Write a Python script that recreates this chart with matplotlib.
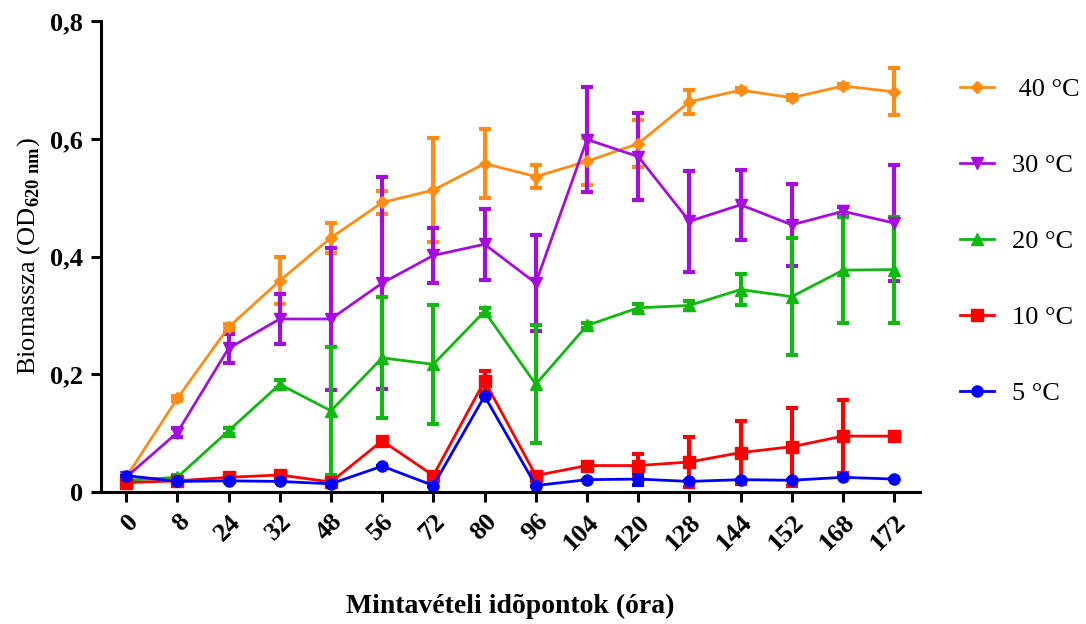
import numpy as np
import matplotlib.pyplot as plt

# Sampling times (hours) and mean biomass (OD620) per temperature, with SD
hours = ['0', '8', '24', '32', '48', '56', '72', '80', '96', '104',
         '120', '128', '144', '152', '168', '172']

od_40 = [0.025, 0.159, 0.280, 0.359, 0.432, 0.492, 0.513, 0.558, 0.536, 0.562,
         0.592, 0.663, 0.683, 0.670, 0.690, 0.680]
sd_40 = [0.0, 0.004, 0.006, 0.040, 0.025, 0.020, 0.088, 0.059, 0.019, 0.040,
         0.040, 0.020, 0.004, 0.004, 0.004, 0.040]

od_30 = [0.025, 0.101, 0.244, 0.294, 0.294, 0.355, 0.402, 0.421, 0.355, 0.599,
         0.570, 0.460, 0.488, 0.454, 0.477, 0.457]
sd_30 = [0.0, 0.008, 0.025, 0.042, 0.120, 0.180, 0.047, 0.060, 0.081, 0.090,
         0.074, 0.086, 0.060, 0.070, 0.008, 0.099]

od_20 = [0.020, 0.025, 0.104, 0.183, 0.138, 0.228, 0.217, 0.307, 0.183, 0.283,
         0.313, 0.317, 0.344, 0.332, 0.377, 0.378]
sd_20 = [0.0, 0.004, 0.005, 0.007, 0.109, 0.103, 0.101, 0.005, 0.100, 0.004,
         0.007, 0.008, 0.027, 0.100, 0.090, 0.090]

od_10 = [0.016, 0.019, 0.025, 0.029, 0.017, 0.087, 0.028, 0.189, 0.028, 0.045,
         0.045, 0.051, 0.067, 0.077, 0.095, 0.095]
sd_10 = [0.0, 0.0, 0.004, 0.004, 0.004, 0.004, 0.004, 0.017, 0.004, 0.004,
         0.020, 0.043, 0.053, 0.066, 0.062, 0.0]

od_5 = [0.028, 0.018, 0.019, 0.018, 0.014, 0.044, 0.011, 0.163, 0.011, 0.021,
        0.022, 0.018, 0.021, 0.020, 0.025, 0.022]
sd_5 = [0.0, 0.0, 0.0, 0.0, 0.0, 0.0, 0.0, 0.0, 0.0, 0.0,
        0.010, 0.0, 0.0, 0.0, 0.0, 0.0]

series = [
    (' 40 °C', od_40, sd_40, '#ff8c14', 'D', 6),
    ('30 °C', od_30, sd_30, '#a50ddf', 'v', 9),
    ('20 °C', od_20, sd_20, '#10b810', '^', 9),
    ('10 °C', od_10, sd_10, '#ff0000', 's', 8),
    ('5 °C', od_5, sd_5, '#0000ff', 'o', 8),
]

plt.rcParams['font.family'] = ['Liberation Serif', 'DejaVu Serif']
plt.rcParams['mathtext.fontset'] = 'custom'
plt.rcParams['mathtext.rm'] = 'Liberation Serif'
plt.rcParams['mathtext.bf'] = 'Liberation Serif:bold'

fig = plt.figure(figsize=(10.86, 6.24), dpi=100)
ax = fig.add_axes([0.093, 0.2115, 0.754, 0.7545])

x = np.arange(len(hours))
for label, y, err, color, marker, ms in series:
    ax.errorbar(x, y, yerr=err, color=color, marker=marker, markersize=ms,
                linewidth=2, elinewidth=3, capsize=4, capthick=3,
                label=label)

ax.set_xlim(-0.49, 15.5)
ax.set_ylim(0, 0.8)
ax.set_xticks(x)
ax.set_xticklabels(hours, rotation=45, ha='right', rotation_mode='anchor',
                   fontweight='bold', fontsize=19)
ax.set_yticks([0, 0.2, 0.4, 0.6, 0.8])
ax.set_yticklabels(['0', '0,2', '0,4', '0,6', '0,8'], fontweight='bold', fontsize=19)

for side in ['top', 'right']:
    ax.spines[side].set_visible(False)
for side in ['left', 'bottom']:
    ax.spines[side].set_linewidth(2.2)
ax.tick_params(axis='both', direction='out', length=7, width=2.2, pad=6)

ax.set_ylabel(r'Biomassza (OD$_{\mathbf{620\ nm}}$)', fontsize=19, labelpad=6)
ax.set_xlabel('Mintavételi idõpontok (óra)', fontsize=20, fontweight='bold')
ax.xaxis.set_label_coords(0.5, -0.244)
ax.xaxis.label.set_va('center')

handles, labels = ax.get_legend_handles_labels()
handles = [h[0] for h in handles]
fig.legend(handles, labels, loc='upper left', bbox_to_anchor=(0.862, 0.914),
           frameon=False, fontsize=19, labelspacing=1.99, handlelength=1.3,
           handletextpad=0.68)

fig.savefig('out.png', dpi=100)
